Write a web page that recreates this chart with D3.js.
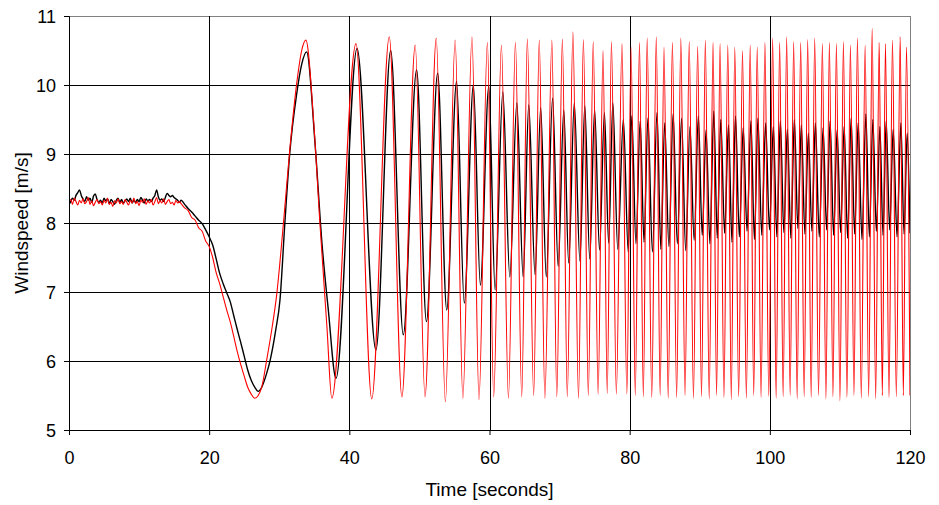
<!DOCTYPE html>
<html>
<head>
<meta charset="utf-8">
<script src="https://cdn.jsdelivr.net/npm/d3@7"></script>
<style>
  html, body { margin: 0; padding: 0; background: #fff; }
  svg { display: block; }
  text { font-family: "Liberation Sans", Arial, sans-serif; fill: #000; }
</style>
</head>
<body>
<svg id="chart" width="939" height="505"></svg>
<script>
// ---------- data ----------
const xTicks = [0, 20, 40, 60, 80, 100, 120];
const yTicks = [5, 6, 7, 8, 9, 10, 11];
const xTitle = "Time [seconds]";
const yTitle = "Windspeed [m/s]";

// steady part, one value every 0.25 s from t = 0
const flatStep = 0.25;
const redFlat = [8.30, 8.34, 8.27, 8.36, 8.31, 8.26, 8.33, 8.29, 8.35, 8.28, 8.31, 8.37, 8.27, 8.32, 8.25, 8.30,
  8.34, 8.28, 8.31, 8.26, 8.33, 8.29, 8.36, 8.27, 8.30, 8.24, 8.32, 8.29, 8.35, 8.28, 8.31, 8.27,
  8.34, 8.30, 8.26, 8.33, 8.29, 8.36, 8.28, 8.31, 8.25, 8.33, 8.30, 8.35, 8.27, 8.32, 8.29, 8.34,
  8.26, 8.31, 8.37, 8.28, 8.32, 8.29, 8.35, 8.27, 8.31, 8.34, 8.28, 8.30, 8.26, 8.33, 8.29, 8.31];
const blackFlat = [8.27, 8.31, 8.36, 8.33, 8.40, 8.44, 8.48, 8.40, 8.35, 8.31, 8.38, 8.33, 8.36, 8.30, 8.39, 8.42,
  8.34, 8.30, 8.33, 8.29, 8.36, 8.32, 8.35, 8.28, 8.34, 8.31, 8.27, 8.33, 8.36, 8.30, 8.34, 8.29,
  8.32, 8.35, 8.31, 8.36, 8.29, 8.33, 8.30, 8.34, 8.31, 8.37, 8.33, 8.29, 8.35, 8.32, 8.34, 8.31,
  8.36, 8.40, 8.48, 8.38, 8.33, 8.35, 8.31, 8.37, 8.43, 8.40, 8.38, 8.40, 8.37, 8.35, 8.33, 8.30];

// descent and first rise [t, v]
const redRamp = [[16.0,8.28],[16.5,8.22],[17.0,8.18],[17.5,8.08],[18.0,8.04],[18.5,7.93],[19.0,7.88],[19.5,7.74],
  [20.0,7.66],[20.5,7.50],[21.0,7.28],[21.5,7.12],[22.0,6.93],[22.5,6.74],[23.0,6.57],[23.5,6.36],[24.0,6.14],
  [24.5,5.95],[25.0,5.78],[25.5,5.62],[26.0,5.52],[26.5,5.46],[27.0,5.50],[27.5,5.62],[28.2,6.01],[29.0,6.50],
  [29.6,6.93],[30.6,8.00],[31.5,9.06],[32.5,10.03],[33.2,10.50]];
const blackRamp = [[16.0,8.33],[16.5,8.27],[17.0,8.21],[17.5,8.16],[18.0,8.10],[18.5,8.04],[19.0,7.99],[19.5,7.90],
  [20.0,7.80],[20.5,7.68],[21.0,7.48],[21.5,7.27],[22.0,7.12],[22.5,6.99],[23.0,6.86],[23.5,6.66],[24.0,6.46],
  [24.5,6.27],[25.0,6.07],[25.5,5.87],[26.0,5.72],[26.5,5.62],[27.0,5.56],[27.5,5.62],[28.2,5.82],[28.7,6.01],
  [29.5,6.45],[30.1,6.88],[30.8,8.00],[31.5,9.01],[32.5,9.88],[33.2,10.30]];

// oscillation: peaks and troughs [t, v]
const redOsc = [[33.8,10.65],[34.9,9.49],[35.8,8.0],[36.8,6.5],[37.5,5.46],
  [40.95,10.60],[43.2,5.45],[45.7,10.70],[47.5,5.48],[49.4,10.58],[50.8,5.48],[52.4,10.68],[53.7,5.41],
  [55.1,10.65],[56.2,5.46],[57.5,10.70],[58.5,5.44],[59.7,10.62],[60.6,5.48],[61.7,10.58],[62.7,5.46],
  [63.7,10.62],[64.6,5.48],[65.4,10.67],[66.3,5.50],[67.1,10.65],[67.9,5.46],[68.9,10.65],[69.6,5.48],
  [70.4,10.67],[71.1,5.48],[71.9,10.77],[72.7,5.46],[73.4,10.66],[74.1,5.50],[74.8,10.63],[75.5,5.52],
  [76.2,10.50],[76.8,5.53],[77.4,10.63],[78.1,5.52],[78.9,10.60],[79.6,5.52],[80.2,10.55],[80.8,5.50],
  [81.4,10.62],[81.95,5.48],[82.5,10.68],[83.15,5.47],[83.8,10.70],[84.35,5.50],[84.9,10.55],[85.5,5.46],
  [86.1,10.62],[86.7,5.47],[87.3,10.68],[87.9,5.50],[88.5,10.63],[89.1,5.46],[89.7,10.56],[90.25,5.48],
  [90.8,10.65],[91.35,5.45],[91.9,10.62],[92.4,5.50],[92.9,10.60],[93.45,5.47],[94.0,10.58],[94.5,5.44],
  [95.0,10.55],[95.55,5.48],[96.1,10.50],[96.65,5.46],[97.2,10.58],[97.7,5.50],[98.2,10.55],[98.75,5.47],
  [99.3,10.62],[99.85,5.49],[100.4,10.68],[100.9,5.46],[101.4,10.62],[101.9,5.48],[102.4,10.70],[102.9,5.50],
  [103.4,10.63],[103.9,5.45],[104.4,10.62],[104.9,5.48],[105.4,10.66],[105.9,5.47],[106.4,10.68],[106.95,5.50],
  [107.5,10.60],[108.0,5.45],[108.5,10.62],[109.0,5.48],[109.5,10.60],[110.0,5.42],[110.5,10.63],[111.0,5.47],
  [111.5,10.58],[112.0,5.50],[112.5,10.68],[113.05,5.46],[113.6,10.58],[114.1,5.48],[114.6,10.82],[115.1,5.45],
  [115.6,10.62],[116.05,5.50],[116.5,10.60],[117.0,5.47],[117.5,10.65],[118.05,5.48],[118.6,10.70],[119.05,5.50],
  [119.5,10.55],[120.0,5.50]];
const blackOsc = [[33.9,10.48],[35.1,9.16],[36.1,7.7],[37.0,6.74],[38.1,5.75],
  [41.1,10.53],[43.8,6.16],[45.9,10.50],[47.7,6.38],[49.6,10.22],[51.0,6.57],[52.6,10.17],[53.9,6.74],
  [55.3,10.05],[56.4,6.84],[57.7,10.00],[58.7,7.10],[59.9,9.98],[60.8,7.03],[61.9,9.90],[62.9,7.22],
  [63.9,9.74],[64.8,7.22],[65.6,9.71],[66.5,7.25],[67.3,9.67],[68.1,7.22],[69.0,9.81],[69.8,7.37],
  [70.6,9.64],[71.3,7.42],[72.1,9.74],[72.9,7.45],[73.6,9.70],[74.3,7.48],[75.0,9.64],[75.7,7.61],
  [76.4,9.60],[77.0,7.71],[77.6,9.74],[78.3,7.62],[79.1,9.50],[79.8,7.58],[80.3,9.55],[80.9,7.70],
  [81.5,9.48],[82.05,7.72],[82.6,9.52],[83.25,7.58],[83.9,9.60],[84.45,7.62],[85.0,9.45],[85.6,7.66],
  [86.2,9.58],[86.8,7.70],[87.4,9.52],[88.0,7.60],[88.6,9.40],[89.2,7.75],[89.8,9.55],[90.35,7.82],
  [90.9,9.35],[91.45,7.70],[92.0,9.62],[92.5,7.78],[93.0,9.50],[93.55,7.85],[94.1,9.42],[94.6,7.72],
  [95.1,9.55],[95.65,7.80],[96.2,9.38],[96.75,7.88],[97.3,9.48],[97.8,7.76],[98.3,9.52],[98.85,7.82],
  [99.4,9.45],[99.95,7.90],[100.5,9.40],[101.0,7.80],[101.5,9.48],[102.0,7.86],[102.5,9.36],[103.0,7.78],
  [103.5,9.50],[104.0,7.92],[104.5,9.42],[105.0,7.84],[105.5,9.30],[106.0,7.88],[106.5,9.45],[107.05,7.80],
  [107.6,9.38],[108.1,7.90],[108.6,9.48],[109.1,7.82],[109.6,9.35],[110.1,7.86],[110.6,9.40],[111.1,7.78],
  [111.6,9.52],[112.1,7.84],[112.6,9.45],[113.15,7.76],[113.7,9.58],[114.2,7.80],[114.7,9.50],[115.2,7.88],
  [115.7,9.40],[116.15,7.82],[116.6,9.48],[117.1,7.90],[117.6,9.36],[118.15,7.80],[118.7,9.45],[119.15,7.84],
  [119.6,9.30],[120.0,7.85]];

// ---------- build series ----------
function buildSeries(flat, ramp, osc) {
  const pts = flat.map((v, i) => [i * flatStep, v]);
  return pts.concat(ramp, osc);
}
const blackSeries = buildSeries(blackFlat, blackRamp, blackOsc);
const redSeries = buildSeries(redFlat, redRamp, redOsc);

// ---------- layout ----------
const W = 939, H = 505;
const margin = { left: 69, right: 29, top: 16, bottom: 75 };
const iw = W - margin.left - margin.right;
const ih = H - margin.top - margin.bottom;

const svg = d3.select("#chart");
const g = svg.append("g").attr("transform", `translate(${margin.left},${margin.top})`);

const x = d3.scaleLinear().domain([0, 120]).range([0, iw]);
const y = d3.scaleLinear().domain([5, 11]).range([ih, 0]);

// plot frame: top and right border grey
g.append("line").attr("x1", 0).attr("x2", iw).attr("y1", 0.5).attr("y2", 0.5)
  .attr("stroke", "#808080").attr("stroke-width", 1);
g.append("line").attr("x1", iw + 0.5).attr("x2", iw + 0.5).attr("y1", 0).attr("y2", ih)
  .attr("stroke", "#808080").attr("stroke-width", 1);

// gridlines
g.append("g").selectAll("line").data(yTicks.filter(d => d > 5 && d < 11)).join("line")
  .attr("x1", 0).attr("x2", iw)
  .attr("y1", d => Math.round(y(d)) + 0.5).attr("y2", d => Math.round(y(d)) + 0.5)
  .attr("stroke", "#000").attr("stroke-width", 1);
g.append("g").selectAll("line").data(xTicks.filter(d => d > 0 && d < 120)).join("line")
  .attr("y1", 0).attr("y2", ih)
  .attr("x1", d => Math.round(x(d)) + 0.5).attr("x2", d => Math.round(x(d)) + 0.5)
  .attr("stroke", "#000").attr("stroke-width", 1);

// series
g.append("clipPath").attr("id", "plotclip")
  .append("rect").attr("x", 0).attr("y", -2).attr("width", iw).attr("height", ih + 4);
const line = d3.line().x(d => x(d[0])).y(d => y(d[1])).curve(d3.curveMonotoneX);
const series = g.append("g").attr("clip-path", "url(#plotclip)");
series.append("path").datum(blackSeries).attr("d", line)
  .attr("fill", "none").attr("stroke", "#000").attr("stroke-width", 1.4).attr("stroke-linejoin", "round");
series.append("path").datum(redSeries).attr("d", line)
  .attr("fill", "none").attr("stroke", "#ff0000").attr("stroke-width", 1.1).attr("stroke-linejoin", "round");

// axes
const xAxis = d3.axisBottom(x).tickValues(xTicks).tickSize(5).tickPadding(16).tickFormat(d3.format("d"));
const yAxis = d3.axisLeft(y).tickValues(yTicks).tickSize(5).tickPadding(8).tickFormat(d3.format("d"));

const gx = g.append("g").attr("transform", `translate(0,${ih})`).call(xAxis);
const gy = g.append("g").call(yAxis);
[gx, gy].forEach(a => {
  a.select(".domain").attr("stroke", "#000").attr("stroke-width", 1);
  a.selectAll(".tick line").attr("stroke", "#000");
  a.selectAll(".tick text").attr("font-size", 18).attr("font-family", "Liberation Sans, Arial, sans-serif").attr("fill", "#000");
});
gy.selectAll(".tick text").attr("dy", "0.36em");

// titles
svg.append("text").attr("x", margin.left + iw / 2).attr("y", 496)
  .attr("text-anchor", "middle").attr("font-size", 19).text(xTitle);
svg.append("text").attr("transform", `translate(28,${margin.top + ih / 2}) rotate(-90)`)
  .attr("text-anchor", "middle").attr("font-size", 19).text(yTitle);
</script>
</body>
</html>
